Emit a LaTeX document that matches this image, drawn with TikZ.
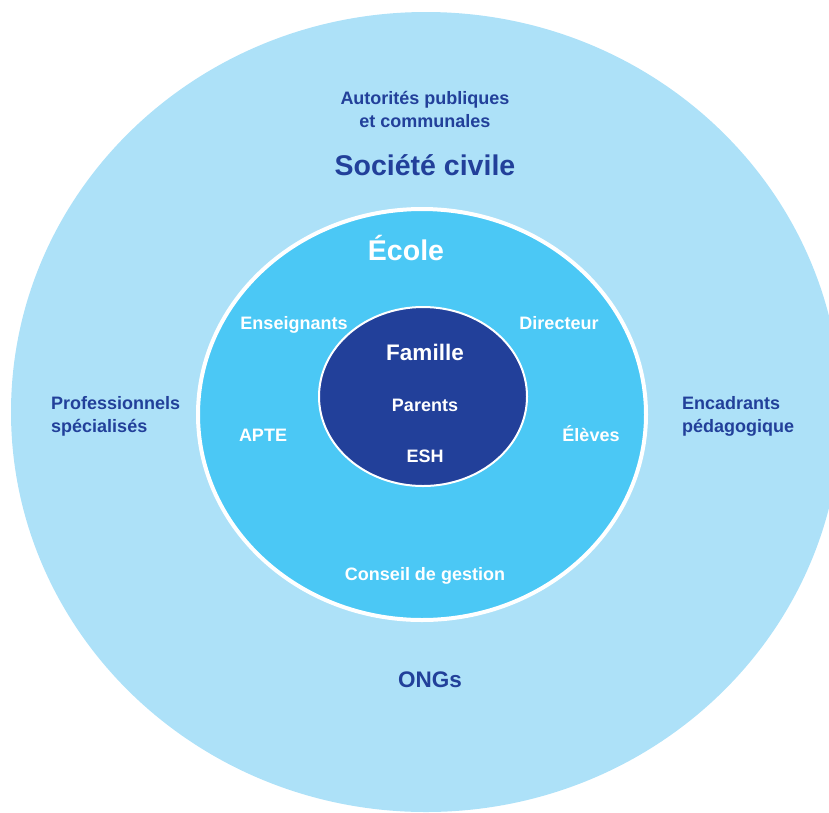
\documentclass[tikz,border=0pt]{standalone}
\usepackage{fontspec}
\setmainfont{Liberation Sans}
\usepackage{xcolor}
\definecolor{ciel}{HTML}{ADE1F8}
\definecolor{azur}{HTML}{4BC8F5}
\definecolor{marine}{HTML}{22409A}
\tikzset{
  lbl/.style={font=\bfseries\fontsize{18}{22.5}\selectfont, align=center, anchor=base, inner sep=0pt},
  sombre/.style={lbl, text=marine},
  clair/.style={lbl, text=white},
  grand/.style={font=\bfseries\fontsize{28.5}{34}\selectfont},
  moyen/.style={font=\bfseries\fontsize{22.5}{27}\selectfont}
}

\begin{document}
\begin{tikzpicture}[x=1pt, y=-1pt]
\useasboundingbox (0,0) rectangle (829,812);
\clip (0,0) rectangle (829,812);
% cercles
\fill[ciel] (426,412) ellipse [x radius=415, y radius=400];
\filldraw[fill=azur, draw=white, line width=4pt] (422,414.5) ellipse [x radius=224, y radius=205.5];
\filldraw[fill=marine, draw=white, line width=2pt] (423,396.5) ellipse [x radius=104, y radius=89.5];
% societe civile
\node[sombre] (autorites) at (425,127) {Autorités publiques\\et communales};
\node[sombre, grand] (societe) at (425,175) {Société civile};
\node[sombre, align=left, anchor=base west] (professionnels) at (51,432) {Professionnels\\spécialisés};
\node[sombre, align=left, anchor=base west] (encadrants) at (682,432) {Encadrants\\pédagogique};
\node[sombre, moyen] (ongs) at (430,687) {ONGs};
% ecole
\node[clair, grand] (ecole) at (406,260) {École};
\node[clair] (enseignants) at (294,329) {Enseignants};
\node[clair] (directeur) at (559,329) {Directeur};
\node[clair] (apte) at (263,441) {APTE};
\node[clair] (eleves) at (591,441) {Élèves};
\node[clair] (conseil) at (425,580) {Conseil de gestion};
% famille
\node[clair, moyen] (famille) at (425,360) {Famille};
\node[clair] (parents) at (425,411) {Parents};
\node[clair] (esh) at (425,462) {ESH};
\end{tikzpicture}
\end{document}
